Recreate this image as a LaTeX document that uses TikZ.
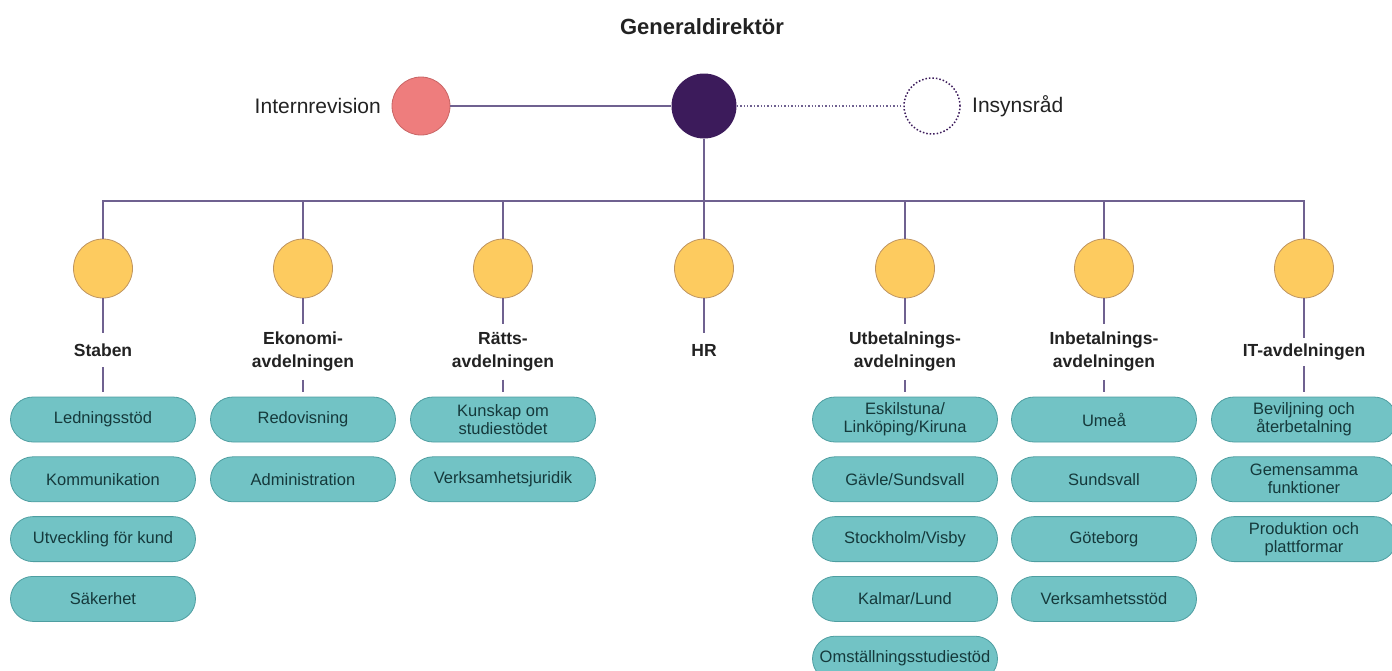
\documentclass[tikz,border=0pt]{standalone}
\usepackage{fontspec}
\setmainfont{Liberation Sans}
\usetikzlibrary{shapes.misc}
\definecolor{gdpurple}{HTML}{3C1B5B}
\definecolor{lineC}{HTML}{6F6190}
\definecolor{pinkC}{HTML}{EE7D7D}
\definecolor{pinkB}{HTML}{C86565}
\definecolor{yelC}{HTML}{FDCB5F}
\definecolor{yelB}{HTML}{BE9460}
\definecolor{tealC}{HTML}{72C3C5}
\definecolor{tealB}{HTML}{4E9EA1}
\definecolor{boxtext}{HTML}{15393B}
\definecolor{labtext}{HTML}{222222}
\begin{document}
\begin{tikzpicture}[x=1pt,y=-1pt,
  conn/.style={draw=lineC,line width=1.4pt},
  dept/.style={circle,fill=yelC,draw=yelB,line width=0.8pt,minimum size=59pt,inner sep=0pt},
  dlabel/.style={font=\bfseries\fontsize{17.5}{23}\selectfont,align=center,inner xsep=2pt,inner ysep=8pt,text=labtext},
  unitbox/.style={rounded rectangle,fill=tealC,draw=tealB,line width=0.8pt,minimum width=185pt,minimum height=45pt,inner sep=0pt,align=center,font=\fontsize{16.5}{18}\selectfont,text=boxtext},
  toplabel/.style={font=\fontsize{21}{24}\selectfont,text=labtext,inner sep=0pt}]
\useasboundingbox (0,0) rectangle (1392,670);

% top level
\node[font=\bfseries\fontsize{22}{26}\selectfont,text=labtext] (title) at (702,27) {Generaldirektör};
\node[circle,fill=gdpurple,minimum size=65pt,inner sep=0pt] (gd) at (704,106) {};
\node[circle,fill=pinkC,draw=pinkB,line width=0.8pt,minimum size=58pt,inner sep=0pt] (ir) at (421,106) {};
\node[circle,fill=white,draw=gdpurple,dotted,line width=1.5pt,minimum size=56pt,inner sep=0pt] (ins) at (932,106) {};
\node[toplabel,anchor=east] (irlab) at (381,106) {Internrevision};
\node[toplabel,anchor=west] (inslab) at (972,106) {Insynsråd};
\draw[conn] (ir.east) -- (gd.west);
\draw[conn,dotted] (gd.east) -- (ins.west);

% bus
\coordinate (bus) at (704,201);
\draw[conn] (gd.south) -- (bus);

% departments
\node[dept] (d1) at (103,268.5) {};
\node[dept] (d2) at (303,268.5) {};
\node[dept] (d3) at (503,268.5) {};
\node[dept] (d4) at (704,268.5) {};
\node[dept] (d5) at (905,268.5) {};
\node[dept] (d6) at (1104,268.5) {};
\node[dept] (d7) at (1304,268.5) {};
\foreach \i in {1,...,7} {\draw[conn] (bus) -| (d\i.north);}

\node[dlabel,inner ysep=10.5pt] (l1) at (103,350) {Staben};
\node[dlabel] (l2) at (303,352) {Ekonomi-\\avdelningen};
\node[dlabel] (l3) at (503,352) {Rätts-\\avdelningen};
\node[dlabel,inner ysep=10.5pt] (l4) at (704,350) {HR};
\node[dlabel] (l5) at (905,352) {Utbetalnings-\\avdelningen};
\node[dlabel] (l6) at (1104,352) {Inbetalnings-\\avdelningen};
\node[dlabel,inner ysep=6pt] (l7) at (1304,352) {IT-avdelningen};
\foreach \i in {1,...,7} {\draw[conn] (d\i.south) -- (l\i.north);}

% units
\def\ra{419.5}\def\rb{479.3}\def\rc{539.1}\def\rd{598.9}\def\re{658.7}
\node[unitbox] (s1) at (103,\ra) {Ledningsstöd};
\node[unitbox] (s2) at (103,\rb) {Kommunikation};
\node[unitbox] (s3) at (103,\rc) {Utveckling för kund};
\node[unitbox] (s4) at (103,\rd) {Säkerhet};

\node[unitbox] (e1) at (303,\ra) {Redovisning};
\node[unitbox] (e2) at (303,\rb) {Administration};

\node[unitbox] (r1) at (503,\ra) {Kunskap om\\studiestödet};
\node[unitbox] (r2) at (503,\rb) {Verksamhetsjuridik};

\node[unitbox] (u1) at (905,\ra) {Eskilstuna/\\Linköping/Kiruna};
\node[unitbox] (u2) at (905,\rb) {Gävle/Sundsvall};
\node[unitbox] (u3) at (905,\rc) {Stockholm/Visby};
\node[unitbox] (u4) at (905,\rd) {Kalmar/Lund};
\node[unitbox] (u5) at (905,\re) {Omställningsstudiestöd};

\node[unitbox] (i1) at (1104,\ra) {Umeå};
\node[unitbox] (i2) at (1104,\rb) {Sundsvall};
\node[unitbox] (i3) at (1104,\rc) {Göteborg};
\node[unitbox] (i4) at (1104,\rd) {Verksamhetsstöd};

\node[unitbox] (t1) at (1304,\ra) {Beviljning och\\återbetalning};
\node[unitbox] (t2) at (1304,\rb) {Gemensamma\\funktioner};
\node[unitbox] (t3) at (1304,\rc) {Produktion och\\plattformar};

\draw[conn,shorten >=5pt] (l1.south) -- (s1.north);
\draw[conn,shorten >=5pt] (l2.south) -- (e1.north);
\draw[conn,shorten >=5pt] (l3.south) -- (r1.north);
\draw[conn,shorten >=5pt] (l5.south) -- (u1.north);
\draw[conn,shorten >=5pt] (l6.south) -- (i1.north);
\draw[conn,shorten >=5pt] (l7.south) -- (t1.north);
\end{tikzpicture}
\end{document}
